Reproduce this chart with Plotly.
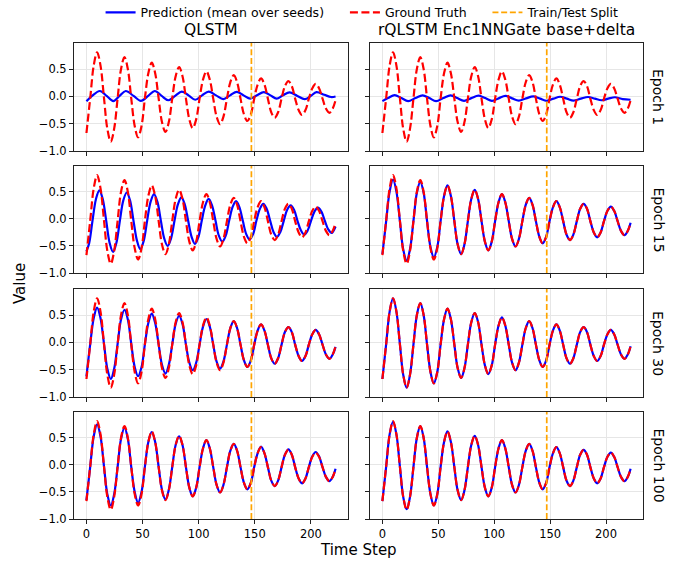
import plotly.graph_objects as go

# ---------------- data ----------------
EPOCHS = ["Epoch 1", "Epoch 15", "Epoch 30", "Epoch 100"]
MODELS = ["QLSTM", "rQLSTM Enc1NNGate base+delta"]
SPLIT_STEP = 147

# Ground truth: start, then crossings / shoulders / peaks / troughs
GT_T = [0, 3.4, 6.5, 9.5, 12.5, 15.6, 18.6, 21.7, 24.7, 27.8, 30.8, 33.9, 36.9,
        39.9, 43.0, 46.0, 49.1, 52.1, 55.2, 58.2, 61.2, 64.3, 67.3, 70.4, 73.4,
        76.5, 79.5, 82.6, 85.6, 88.6, 91.7, 94.7, 97.8, 100.8, 103.9, 106.9,
        109.9, 113.0, 116.0, 119.1, 122.1, 125.2, 128.2, 131.3, 134.3, 137.3,
        140.4, 143.4, 146.5, 149.5, 152.6, 155.6, 158.6, 161.7, 164.7, 167.8,
        170.8, 173.9, 176.9, 180.0, 183.0, 186.0, 189.1, 192.1, 195.2, 198.2,
        201.3, 204.3, 207.3, 210.4, 213.4, 216.5, 219.5, 222]
GT_V = [-0.67,
        -0.02, 0.57, 0.81, 0.57, -0.02, -0.59, -0.83, -0.59,
        -0.03, 0.50, 0.72, 0.50, -0.03, -0.54, -0.75, -0.54,
        -0.03, 0.43, 0.62, 0.43, -0.03, -0.47, -0.65, -0.47,
        -0.03, 0.37, 0.54, 0.37, -0.03, -0.42, -0.58, -0.42,
        -0.04, 0.31, 0.46, 0.31, -0.04, -0.37, -0.51, -0.37,
        -0.04, 0.26, 0.39, 0.26, -0.04, -0.33, -0.45, -0.33,
        -0.04, 0.22, 0.33, 0.22, -0.04, -0.29, -0.39, -0.29,
        -0.04, 0.19, 0.28, 0.19, -0.04, -0.25, -0.34, -0.25,
        -0.04, 0.15, 0.23, 0.15, -0.04, -0.22, -0.30, -0.22,
        -0.07]

# ---- QLSTM predictions ----
Q1_T = [0, 5, 12, 18, 24, 29.5, 35, 42, 48.5, 55, 61, 67, 73, 79, 85, 91, 97,
        103, 109, 115.5, 122, 128, 134, 140, 146, 152, 158, 164, 169.5, 175,
        181, 188, 194.5, 200, 205, 212, 218, 222]
Q1_V = [-0.09, 0.01, 0.10, 0.01, -0.085, 0.01, 0.10, 0.01, -0.08, 0.01, 0.10,
        0.01, -0.07, 0.01, 0.09, 0.02, -0.06, 0.02, 0.09, 0.02, -0.05, 0.02,
        0.085, 0.02, -0.04, 0.02, 0.08, 0.02, -0.04, 0.02, 0.075, 0.01, -0.05,
        0.01, 0.08, 0.03, -0.01, 0.0]

Q15_T = [0, 2.4, 5.4, 8.5, 11.5, 14.5, 17.6, 20.6, 23.7, 26.7, 29.8, 32.8, 35.9,
         38.9, 41.9, 45.0, 48.0, 51.1, 54.1, 57.2, 60.2, 63.2, 66.3, 69.3, 72.4,
         75.4, 78.5, 81.5, 84.6, 87.6, 90.6, 93.7, 96.7, 99.8, 102.8, 105.9,
         108.9, 111.9, 115.0, 118.0, 121.1, 124.1, 127.2, 130.2, 133.3, 136.3,
         139.3, 142.4, 145.4, 148.5, 151.5, 154.6, 157.6, 160.6, 163.7, 166.7,
         169.8, 172.8, 175.9, 178.9, 182.0, 185.0, 188.0, 191.1, 194.1, 197.2,
         200.2, 203.3, 206.3, 209.3, 212.4, 215.4, 218.5, 222]
Q15_V = [-0.60, -0.45,
         -0.03, 0.37, 0.53, 0.37, -0.03, -0.44, -0.61, -0.44,
         -0.03, 0.34, 0.49, 0.34, -0.03, -0.40, -0.56, -0.40,
         -0.03, 0.32, 0.46, 0.32, -0.03, -0.36, -0.50, -0.36,
         -0.03, 0.27, 0.40, 0.27, -0.03, -0.33, -0.46, -0.33,
         -0.03, 0.25, 0.37, 0.25, -0.03, -0.31, -0.42, -0.31,
         -0.03, 0.22, 0.33, 0.22, -0.03, -0.28, -0.38, -0.28,
         -0.03, 0.19, 0.28, 0.19, -0.03, -0.24, -0.33, -0.24,
         -0.03, 0.17, 0.25, 0.17, -0.03, -0.21, -0.29, -0.21,
         -0.03, 0.14, 0.21, 0.14, -0.03, -0.19, -0.26,
         -0.14]

Q30_V = [-0.62,
         -0.02, 0.45, 0.64, 0.45, -0.02, -0.48, -0.67, -0.48,
         -0.02, 0.42, 0.60, 0.42, -0.02, -0.45, -0.62, -0.45,
         -0.03, 0.36, 0.53, 0.36, -0.03, -0.41, -0.57, -0.41,
         -0.03, 0.34, 0.49, 0.34, -0.03, -0.37, -0.51, -0.37,
         -0.04, 0.29, 0.43, 0.29, -0.04, -0.35, -0.48, -0.35,
         -0.04, 0.26, 0.39, 0.26, -0.04, -0.33, -0.45, -0.33,
         -0.04, 0.22, 0.33, 0.22, -0.04, -0.29, -0.39, -0.29,
         -0.04, 0.19, 0.28, 0.19, -0.04, -0.25, -0.34, -0.25,
         -0.04, 0.15, 0.23, 0.15, -0.04, -0.22, -0.30, -0.22,
         -0.08]

Q100_V = [-0.65,
          -0.02, 0.53, 0.75, 0.53, -0.02, -0.54, -0.75, -0.54,
          -0.03, 0.48, 0.69, 0.48, -0.03, -0.50, -0.70, -0.50,
          -0.03, 0.43, 0.61, 0.43, -0.03, -0.46, -0.64, -0.46,
          -0.03, 0.37, 0.53, 0.37, -0.03, -0.42, -0.58, -0.42,
          -0.04, 0.31, 0.46, 0.31, -0.04, -0.37, -0.51, -0.37,
          -0.04, 0.26, 0.39, 0.26, -0.04, -0.33, -0.45, -0.33,
          -0.04, 0.22, 0.34, 0.22, -0.04, -0.29, -0.39, -0.29,
          -0.04, 0.19, 0.29, 0.19, -0.04, -0.25, -0.34, -0.25,
          -0.04, 0.16, 0.24, 0.16, -0.04, -0.22, -0.30, -0.22,
          -0.07]

# ---- rQLSTM predictions ----
R1_T = [0, 5, 11, 17, 23, 29.5, 36, 42, 48, 54.5, 61, 67, 73, 79.5, 86, 92, 98,
        104, 110, 116, 122, 128.5, 135, 141, 147, 153, 159, 165, 171, 177.5,
        184, 190, 196, 202, 208, 215, 222]
R1_V = [-0.085, -0.03, 0.025, -0.03, -0.085, -0.03, 0.02, -0.03, -0.085, -0.03,
        0.02, -0.03, -0.08, -0.03, 0.015, -0.03, -0.08, -0.035, 0.01, -0.035,
        -0.075, -0.035, 0.0, -0.04, -0.08, -0.04, -0.005, -0.04, -0.075, -0.04,
        -0.01, -0.04, -0.07, -0.04, -0.015, -0.05, -0.06]

R15_V = [-0.65,
         -0.03, 0.51, 0.73, 0.51, -0.03, -0.56, -0.77, -0.56,
         -0.03, 0.48, 0.685, 0.48, -0.03, -0.52, -0.71, -0.52,
         -0.03, 0.43, 0.62, 0.43, -0.03, -0.47, -0.65, -0.47,
         -0.03, 0.37, 0.54, 0.37, -0.03, -0.42, -0.58, -0.42,
         -0.04, 0.31, 0.46, 0.31, -0.04, -0.37, -0.51, -0.37,
         -0.04, 0.26, 0.39, 0.26, -0.04, -0.33, -0.45, -0.33,
         -0.04, 0.22, 0.33, 0.22, -0.04, -0.29, -0.39, -0.29,
         -0.04, 0.19, 0.28, 0.19, -0.04, -0.25, -0.34, -0.25,
         -0.04, 0.15, 0.23, 0.15, -0.04, -0.22, -0.30, -0.22,
         -0.07]

R30_V = [-0.67,
         -0.02, 0.57, 0.81, 0.57, -0.02, -0.59, -0.83, -0.59,
         -0.03, 0.50, 0.72, 0.50, -0.03, -0.54, -0.75, -0.54,
         -0.03, 0.43, 0.62, 0.43, -0.03, -0.47, -0.65, -0.47,
         -0.03, 0.37, 0.54, 0.37, -0.03, -0.42, -0.58, -0.42,
         -0.04, 0.31, 0.46, 0.31, -0.04, -0.37, -0.51, -0.37,
         -0.04, 0.26, 0.39, 0.26, -0.04, -0.33, -0.45, -0.33,
         -0.04, 0.22, 0.33, 0.22, -0.04, -0.29, -0.39, -0.29,
         -0.04, 0.19, 0.28, 0.19, -0.04, -0.25, -0.34, -0.25,
         -0.04, 0.15, 0.23, 0.15, -0.04, -0.22, -0.30, -0.22,
         -0.07]

R100_V = [-0.67,
          -0.02, 0.57, 0.80, 0.57, -0.02, -0.59, -0.82, -0.59,
          -0.03, 0.50, 0.72, 0.50, -0.03, -0.54, -0.75, -0.54,
          -0.03, 0.43, 0.62, 0.43, -0.03, -0.47, -0.65, -0.47,
          -0.03, 0.37, 0.54, 0.37, -0.03, -0.42, -0.58, -0.42,
          -0.04, 0.31, 0.46, 0.31, -0.04, -0.37, -0.51, -0.37,
          -0.04, 0.26, 0.39, 0.26, -0.04, -0.33, -0.45, -0.33,
          -0.04, 0.22, 0.33, 0.22, -0.04, -0.29, -0.39, -0.29,
          -0.04, 0.19, 0.28, 0.19, -0.04, -0.25, -0.34, -0.25,
          -0.04, 0.15, 0.23, 0.15, -0.04, -0.22, -0.30, -0.22,
          -0.07]

PRED = [
    [(Q1_T, Q1_V), (R1_T, R1_V)],
    [(Q15_T, Q15_V), (GT_T, R15_V)],
    [(GT_T, Q30_V), (GT_T, R30_V)],
    [(GT_T, Q100_V), (GT_T, R100_V)],
]

Y_TICKS = [-1.0, -0.5, 0.0, 0.5]
Y_TICKTEXT = ["\u22121.0", "\u22120.5", "0.0", "0.5"]
X_TICKS = [0, 50, 100, 150, 200]

# ---------------- layout geometry ----------------
W, H = 688, 561
FONT = "DejaVu Sans"
COL_PX = [(74, 348), (370, 643)]
ROW_PX = [(43, 151), (166, 273), (289, 397), (412, 519)]

BLUE = "#0000ff"
RED = "#ff0000"
ORANGE = "#ffa500"
NB = "\u00a0" * 4
SMOOTH = 1.0

fig = go.Figure()
layout = dict(
    width=W, height=H,
    margin=dict(l=0, r=0, t=0, b=0, autoexpand=False),
    paper_bgcolor="white", plot_bgcolor="white",
    font=dict(family=FONT, size=11, color="black"),
    showlegend=True,
    legend=dict(orientation="h", x=0.527, xanchor="center", y=1.004, yanchor="top",
                font=dict(size=12.5), bgcolor="rgba(0,0,0,0)", itemwidth=30,
                tracegroupgap=0),
)
annotations = []
shapes = []

for r in range(4):
    for c in range(2):
        i = r * 2 + c + 1
        xa = "x" if i == 1 else f"x{i}"
        ya = "y" if i == 1 else f"y{i}"
        xkey = "xaxis" if i == 1 else f"xaxis{i}"
        ykey = "yaxis" if i == 1 else f"yaxis{i}"
        x0, x1 = COL_PX[c]
        y0, y1 = ROW_PX[r]
        layout[xkey] = dict(
            domain=[x0 / W, x1 / W], anchor=ya, range=[-11.1, 233.1],
            tickvals=X_TICKS, showticklabels=(r == 3), ticks="outside",
            ticklen=4, tickwidth=1, tickcolor="#222",
            showgrid=True, gridcolor="#e6e6e6", gridwidth=0.8,
            showline=True, linecolor="#222", linewidth=1, mirror=True,
            zeroline=False, tickfont=dict(size=11.5, family=FONT),
        )
        layout[ykey] = dict(
            domain=[1 - y1 / H, 1 - y0 / H], anchor=xa, range=[-1.0, 0.98],
            tickvals=Y_TICKS, ticktext=Y_TICKTEXT, showticklabels=(c == 0),
            ticks="outside", ticklen=4, tickwidth=1, tickcolor="#222",
            showgrid=True, gridcolor="#e6e6e6", gridwidth=0.8,
            showline=True, linecolor="#222", linewidth=1, mirror=True,
            zeroline=False, tickfont=dict(size=11.5, family=FONT),
        )
        pt, pv = PRED[r][c]
        first = (i == 1)
        fig.add_trace(go.Scatter(
            x=pt, y=pv, mode="lines", xaxis=xa, yaxis=ya,
            line=dict(color=BLUE, width=2.2, shape="spline", smoothing=SMOOTH),
            name="Prediction (mean over seeds)" + NB, showlegend=first,
            legendgroup="pred", hoverinfo="skip"))
        fig.add_trace(go.Scatter(
            x=GT_T, y=GT_V, mode="lines", xaxis=xa, yaxis=ya,
            line=dict(color=RED, width=2.2, dash="8px,3.5px", shape="spline",
                      smoothing=SMOOTH),
            name="Ground Truth" + NB, showlegend=first, legendgroup="gt",
            hoverinfo="skip"))
        shapes.append(dict(
            type="line", xref=xa, yref=f"{ya} domain", x0=SPLIT_STEP, x1=SPLIT_STEP,
            y0=0, y1=1, line=dict(color=ORANGE, width=1.7, dash="6px,2.7px"),
            layer="above"))
        if r == 0:
            annotations.append(dict(
                text=MODELS[c], x=(x0 + x1) / 2 / W, y=1 - 30 / H, xref="paper",
                yref="paper", showarrow=False, xanchor="center", yanchor="middle",
                font=dict(size=15.5, family=FONT)))
        if c == 1:
            annotations.append(dict(
                text=EPOCHS[r], x=658 / W, y=1 - (y0 + y1) / 2 / H, xref="paper",
                yref="paper", showarrow=False, textangle=90, xanchor="center",
                yanchor="middle", font=dict(size=14, family=FONT)))

# legend entry for the split line
fig.add_trace(go.Scatter(
    x=[None], y=[None], mode="lines", xaxis="x", yaxis="y",
    line=dict(color=ORANGE, width=1.7, dash="6px,2.7px"),
    name="Train/Test Split", showlegend=True, legendgroup="split"))

annotations.append(dict(text="Value", x=20 / W, y=1 - 284 / H, xref="paper",
                        yref="paper", showarrow=False, textangle=-90,
                        xanchor="center", yanchor="middle",
                        font=dict(size=15, family=FONT)))
annotations.append(dict(text="Time Step", x=358 / W, y=1 - 550 / H, xref="paper",
                        yref="paper", showarrow=False, xanchor="center",
                        yanchor="middle", font=dict(size=15, family=FONT)))

layout["annotations"] = annotations
layout["shapes"] = shapes
fig.update_layout(**layout)
fig.write_html("out.html")
